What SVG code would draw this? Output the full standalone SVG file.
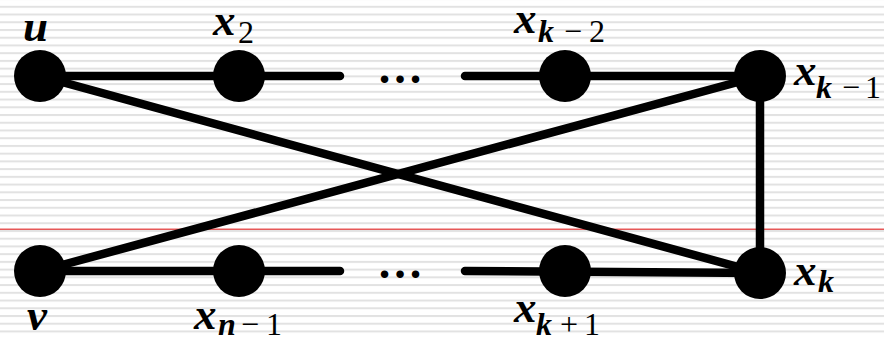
<svg xmlns="http://www.w3.org/2000/svg" width="884" height="337" viewBox="0 0 884 337">
<defs>
<pattern id="stripes" patternUnits="userSpaceOnUse" x="0" y="5.8" width="884" height="7.73">
<rect x="0" y="0" width="884" height="2" fill="#e2e2e2"/>
</pattern>
</defs>
<style>
.edge{stroke:#000;stroke-width:8.5;stroke-linecap:round;fill:none}
.node{fill:#000}
.lbl{font-family:'Liberation Serif','Times New Roman',serif;fill:#000}
.m{font-weight:bold;font-style:italic;font-size:45px}
.s{font-weight:bold;font-style:italic;font-size:32px}
.r{font-weight:normal;font-style:normal;font-size:32px}
</style>
<rect width="884" height="337" fill="#fff"/>
<rect width="884" height="337" fill="url(#stripes)"/>
<rect x="0" y="228.6" width="884" height="1.2" fill="#e03030"/>
<g id="connectors">
<line class="edge" x1="40" y1="76" x2="340" y2="76"/>
<line class="edge" x1="465" y1="76" x2="760" y2="76"/>
<line class="edge" x1="40" y1="271" x2="340" y2="271"/>
<line class="edge" x1="465" y1="271" x2="760" y2="273"/>
<line class="edge" x1="40" y1="76" x2="760" y2="273"/>
<line class="edge" x1="40" y1="271" x2="760" y2="76"/>
<line class="edge" x1="760" y1="76" x2="760" y2="273"/>
</g>
<g class="lbl">
<g id="ellipsis-top"><text font-weight="bold" font-size="46" text-anchor="middle" x="400" y="83">…</text></g>
<g id="ellipsis-bottom"><text font-weight="bold" font-size="46" text-anchor="middle" x="400" y="278">…</text></g>
<g id="node-u"><circle class="node" cx="40" cy="76" r="26"/><text class="m" x="23" y="41">u</text></g>
<g id="node-x2"><circle class="node" cx="239" cy="76" r="26"/><text class="m" x="213" y="35">x<tspan class="r" x="238" y="43">2</tspan></text></g>
<g id="node-xk-2"><circle class="node" cx="565" cy="76" r="26"/><text class="m" x="514" y="33">x<tspan class="s" x="538" y="42">k</tspan><tspan class="r" x="564" y="42">−</tspan><tspan class="r" x="589" y="42">2</tspan></text></g>
<g id="node-xk-1"><circle class="node" cx="760" cy="76" r="26"/><text class="m" x="794" y="85">x<tspan class="s" x="816" y="98">k</tspan><tspan class="r" x="842" y="98">−</tspan><tspan class="r" x="865" y="98">1</tspan></text></g>
<g id="node-v"><circle class="node" cx="40" cy="271" r="26"/><text class="m" x="27" y="330">v</text></g>
<g id="node-xn-1"><circle class="node" cx="239" cy="271" r="26"/><text class="m" x="194" y="329">x<tspan class="s" x="218" y="335">n</tspan><tspan class="r" x="241" y="335">−</tspan><tspan class="r" x="266" y="335">1</tspan></text></g>
<g id="node-xk+1"><circle class="node" cx="565" cy="271" r="26"/><text class="m" x="514" y="322">x<tspan class="s" x="536" y="335">k</tspan><tspan class="r" x="560" y="335">+</tspan><tspan class="r" x="584" y="335">1</tspan></text></g>
<g id="node-xk"><circle class="node" cx="760" cy="273" r="26"/><text class="m" x="794" y="285">x<tspan class="s" x="818" y="292">k</tspan></text></g>
</g>
</svg>
